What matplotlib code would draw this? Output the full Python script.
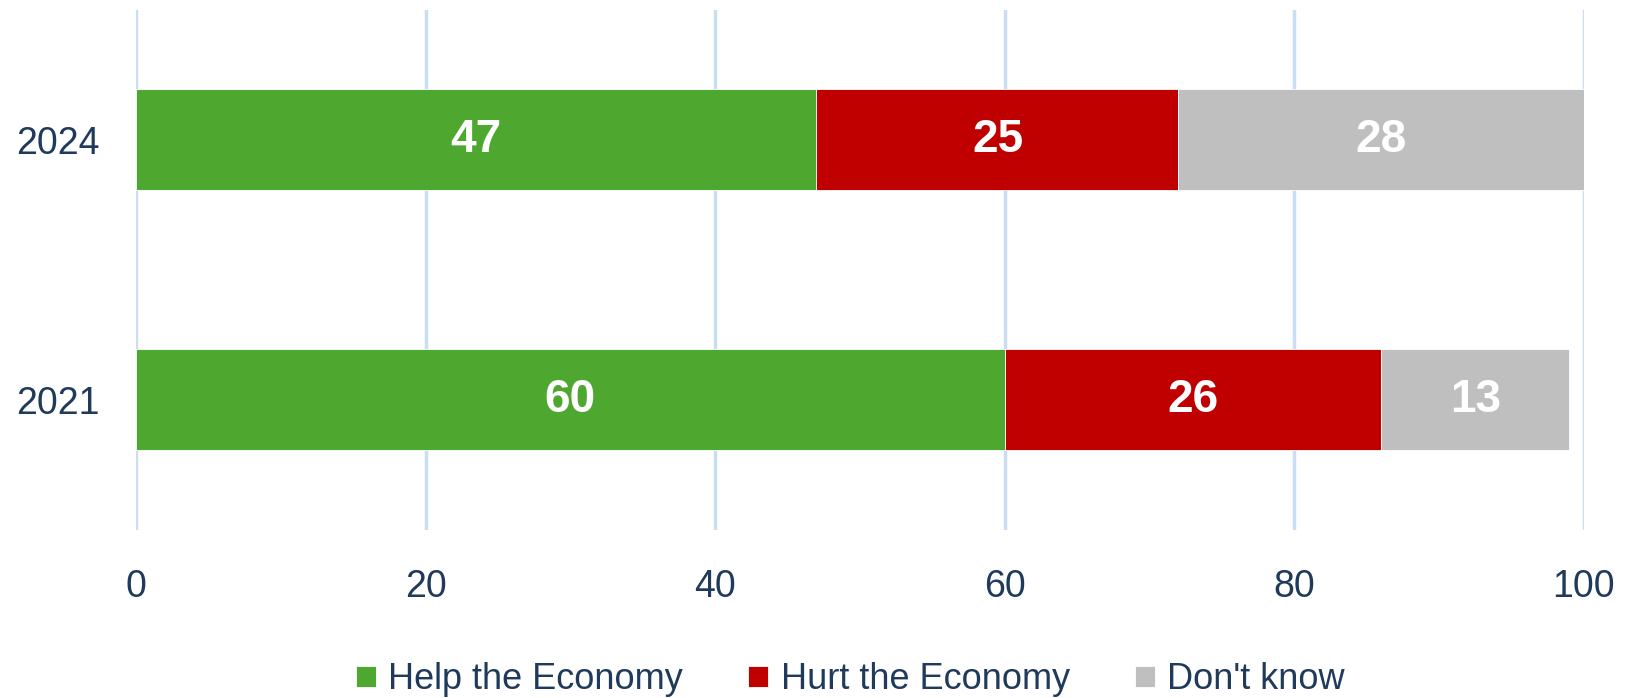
import matplotlib
matplotlib.use('Agg')
import matplotlib.pyplot as plt

# Datos
years = ['2021', '2024']
help_vals = [60, 47]
hurt_vals = [26, 25]
dontknow_vals = [13, 28]
series_names = ['Help the Economy', 'Hurt the Economy', "Don't know"]
colors = ['#4EA72E', '#C00000', '#BFBFBF']
text_color = '#1F3A5A'

plt.rcParams['font.family'] = ['Liberation Sans', 'DejaVu Sans']

fig = plt.figure(figsize=(16.26, 6.98), dpi=100)
ax = fig.add_axes([0.0836, 0.241, 0.8905, 0.745])

pos = list(range(len(years)))
left = [0] * len(years)
for vals, name, col in zip([help_vals, hurt_vals, dontknow_vals], series_names, colors):
    bars = ax.barh(pos, vals, left=left, height=0.39, color=col, label=name,
                   edgecolor='white', linewidth=0.6, zorder=3)
    ax.bar_label(bars, labels=[str(v) for v in vals], label_type='center',
                 color='white', fontsize=33, fontweight='bold')
    left = [l + v for l, v in zip(left, vals)]

ax.set_xlim(0, 100)
ax.set_ylim(-0.5, 1.5)
ax.set_xticks(range(0, 101, 20))
ax.set_yticks(pos)
ax.set_yticklabels(years)
ax.tick_params(axis='both', length=0, labelsize=27, labelcolor=text_color)
ax.tick_params(axis='x', pad=28)
ax.tick_params(axis='y', pad=26)
ax.grid(axis='x', color='#C9DDF3', linewidth=2.5, zorder=0)
ax.set_axisbelow(True)
for s in ax.spines.values():
    s.set_visible(False)

leg = fig.legend(loc='center', bbox_to_anchor=(0.523, 0.026), ncol=3, frameon=False,
                 fontsize=26, handlelength=0.55, handleheight=0.55,
                 handletextpad=0.35, columnspacing=1.8)
for t in leg.get_texts():
    t.set_color(text_color)

fig.savefig('out.png', dpi=100)
